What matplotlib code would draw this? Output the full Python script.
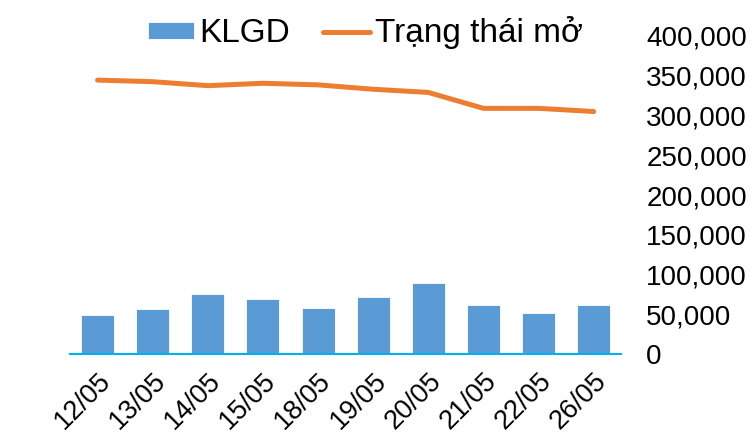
import matplotlib

matplotlib.use("Agg")
import matplotlib.pyplot as plt
from matplotlib.ticker import FuncFormatter

plt.rcParams["font.family"] = ["Liberation Sans", "DejaVu Sans"]

# Data
dates = ["12/05", "13/05", "14/05", "15/05", "18/05", "19/05", "20/05", "21/05", "22/05", "26/05"]
klgd = [49800, 56500, 76000, 69100, 58200, 71700, 89400, 62400, 51400, 62400]
trang_thai_mo = [344500, 342500, 337500, 340500, 338500, 333000, 329000, 309000, 309000, 305000]
y_ticks = [0, 50000, 100000, 150000, 200000, 250000, 300000, 350000, 400000]

bar_color = "#5B9BD5"
line_color = "#ED7D31"
axis_color = "#00B0F0"

fig = plt.figure(figsize=(7.53, 4.33), dpi=100)
ax = fig.add_axes([0.093, 0.182, 0.732, 0.735])

x = list(range(len(dates)))
bars = ax.bar(x, klgd, width=0.6, color=bar_color, edgecolor="white", linewidth=0.6,
              label="KLGD", zorder=2)
(line,) = ax.plot(x, trang_thai_mo, color=line_color, linewidth=3.6,
                  solid_capstyle="round", label="Trạng thái mở", zorder=3)

ax.set_xlim(-0.5, len(dates) - 0.5)
ax.set_ylim(0, 400000)
ax.set_yticks(y_ticks)
ax.yaxis.set_major_formatter(FuncFormatter(lambda v, p: f"{int(v):,}"))
ax.yaxis.tick_right()
ax.tick_params(axis="y", length=0, labelsize=20, pad=18)

ax.set_xticks(x)
ax.set_xticklabels(dates, rotation=45, ha="right", rotation_mode="anchor")
ax.tick_params(axis="x", length=0, labelsize=19.5, pad=10)

for side in ["left", "right", "top"]:
    ax.spines[side].set_visible(False)
ax.spines["bottom"].set_color(axis_color)
ax.spines["bottom"].set_linewidth(1.5)

ax.legend(handles=[bars, line], loc="center", bbox_to_anchor=(0.485, 0.924),
          bbox_transform=fig.transFigure, ncol=2, frameon=False, fontsize=24,
          handlelength=1.4, handleheight=0.45, handletextpad=0.15, columnspacing=1.0)

fig.savefig("out.png", dpi=100)
